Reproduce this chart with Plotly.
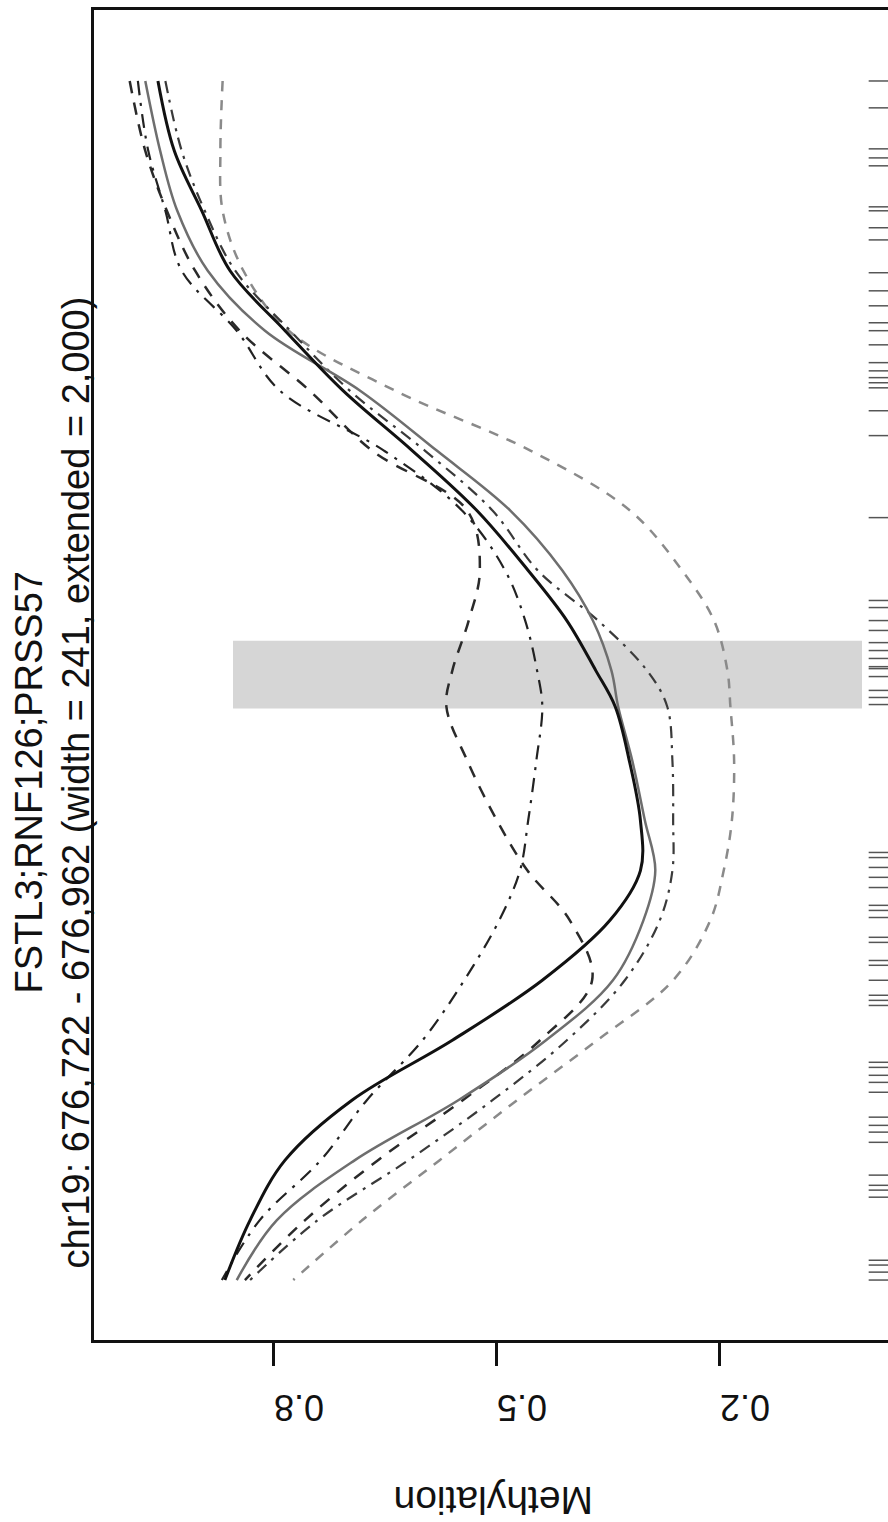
import plotly.graph_objects as go

# genomic positions (bp) at which the smoothed methylation curves are read
positions = [678941, 678694, 678482, 678270, 678058, 677846, 677634, 677422, 677210,
             677033, 676856, 676729, 676538, 676326, 676149, 675973, 675761, 675549,
             675337, 675125, 674913, 674701]

# smoothed methylation per sample group
meth_A = [0.956, 0.934, 0.897, 0.859, 0.785, 0.707, 0.614, 0.527, 0.458, 0.406, 0.367,
          0.341, 0.322, 0.307, 0.307, 0.348, 0.439, 0.560, 0.695, 0.785, 0.832, 0.866]
meth_B = [0.973, 0.953, 0.930, 0.889, 0.812, 0.684, 0.581, 0.482, 0.412, 0.371, 0.346,
          0.337, 0.318, 0.301, 0.287, 0.303, 0.344, 0.434, 0.552, 0.691, 0.796, 0.850]
meth_C = [0.869, 0.872, 0.869, 0.841, 0.780, 0.637, 0.455, 0.321, 0.251, 0.208, 0.190,
          0.186, 0.181, 0.184, 0.195, 0.213, 0.263, 0.365, 0.473, 0.577, 0.681, 0.774]
meth_D = [0.994, 0.973, 0.944, 0.906, 0.846, 0.752, 0.668, 0.540, 0.523, 0.538, 0.560,
          0.568, 0.540, 0.500, 0.459, 0.402, 0.372, 0.442, 0.546, 0.660, 0.758, 0.839]
meth_E = [0.983, 0.969, 0.946, 0.924, 0.850, 0.792, 0.652, 0.547, 0.489, 0.462, 0.446,
          0.439, 0.447, 0.458, 0.469, 0.497, 0.544, 0.600, 0.675, 0.737, 0.819, 0.870]
meth_F = [0.946, 0.924, 0.893, 0.852, 0.778, 0.698, 0.597, 0.506, 0.445, 0.364, 0.298,
          0.271, 0.264, 0.263, 0.264, 0.281, 0.328, 0.406, 0.506, 0.619, 0.741, 0.832]

# CpG sites shown as rug marks
cpg_sites = [678941, 678846, 678701, 678669, 678641, 678496, 678482, 678422, 678379,
             678263, 678199, 678146, 678086, 678058, 678008, 677945, 677916, 677892,
             677874, 677856, 677775, 677687, 677397, 677104, 677079, 677033, 676998,
             676955, 676927, 676899, 676870, 676863, 676835, 676786, 676761, 676736,
             676213, 676195, 676160, 676125, 676089, 676026, 676008, 675983, 675913,
             675895, 675831, 675814, 675761, 675708, 675690, 675672, 675471, 675453,
             675425, 675400, 675365, 675277, 675248, 675224, 675188, 675072, 675036,
             675019, 674994, 674771, 674754, 674729, 674701]

dmr_start, dmr_end = 676722, 676962
band_meth = [0.855, 0.009]
rug_meth = [0.0, -0.04]

title1 = "FSTL3;RNF126;PRSS57"
title2 = "chr19: 676,722 - 676,962 (width = 241, extended = 2,000)"
axis_title = "Methylation"
tick_vals = [0.2, 0.5, 0.8]
tick_text = ["0.2", "0.5", "0.8"]

FONT = "Liberation Sans, Arial, Helvetica, sans-serif"

fig = go.Figure()

styles = [
    (meth_C, "#8a8a8a", 2.5, "10px,9px"),
    (meth_F, "#3a3a3a", 2.2, "12px,7px,3px,7px"),
    (meth_D, "#2a2a2a", 2.5, "12px,10px"),
    (meth_E, "#222222", 2.2, "14px,8px,3px,8px"),
    (meth_B, "#6e6e6e", 2.5, "solid"),
    (meth_A, "#111111", 3.0, "solid"),
]
for vals, col, w, dash in styles:
    fig.add_trace(go.Scatter(x=vals, y=positions, mode="lines",
                             line=dict(color=col, width=w, dash=dash,
                                       shape="spline", smoothing=1.0),
                             hoverinfo="skip"))

rx, ry = [], []
for p in cpg_sites:
    rx += [rug_meth[0], rug_meth[1], None]
    ry += [p, p, None]
fig.add_trace(go.Scatter(x=rx, y=ry, mode="lines",
                         line=dict(color="#555555", width=1.5), hoverinfo="skip"))

fig.add_shape(type="rect", xref="x", yref="y", x0=band_meth[0], x1=band_meth[1],
              y0=dmr_start, y1=dmr_end, fillcolor="#d6d6d6", line=dict(width=0),
              layer="below")

fig.update_layout(
    width=888, height=1522,
    margin=dict(l=94, r=0, t=10, b=182, pad=0),
    paper_bgcolor="white", plot_bgcolor="white",
    showlegend=False,
    font=dict(family=FONT, color="#111111"),
    xaxis=dict(range=[1.042, -0.026], tickvals=tick_vals, ticktext=tick_text,
               tickangle=180, ticks="outside", ticklen=23, tickwidth=2.5,
               tickcolor="#111111", showline=True, linewidth=3, linecolor="#111111",
               mirror=True, showgrid=False, zeroline=False,
               tickfont=dict(size=36, family=FONT, color="#111111"),
               ticklabelstandoff=22),
    yaxis=dict(range=[674489, 679192], showline=True, linewidth=3,
               linecolor="#111111", mirror=False, showticklabels=False, ticks="",
               showgrid=False, zeroline=False),
)

fig.add_annotation(text=title1, textangle=-90, xref="paper", yref="paper",
                   x=(29 - 94) / 794, y=(1340 - 782) / 1331, xanchor="center",
                   yanchor="middle", showarrow=False,
                   font=dict(size=38, family=FONT, color="#111111"))
fig.add_annotation(text=title2, textangle=-90, xref="paper", yref="paper",
                   x=(76 - 94) / 794, y=(1340 - 782) / 1331, xanchor="center",
                   yanchor="middle", showarrow=False,
                   font=dict(size=38, family=FONT, color="#111111"))
fig.add_annotation(text=axis_title, textangle=180, xref="paper", yref="paper",
                   x=(494 - 94) / 794, y=(1340 - 1500) / 1331, xanchor="center",
                   yanchor="middle", showarrow=False,
                   font=dict(size=39, family=FONT, color="#111111"))

fig.write_html("out.html")
